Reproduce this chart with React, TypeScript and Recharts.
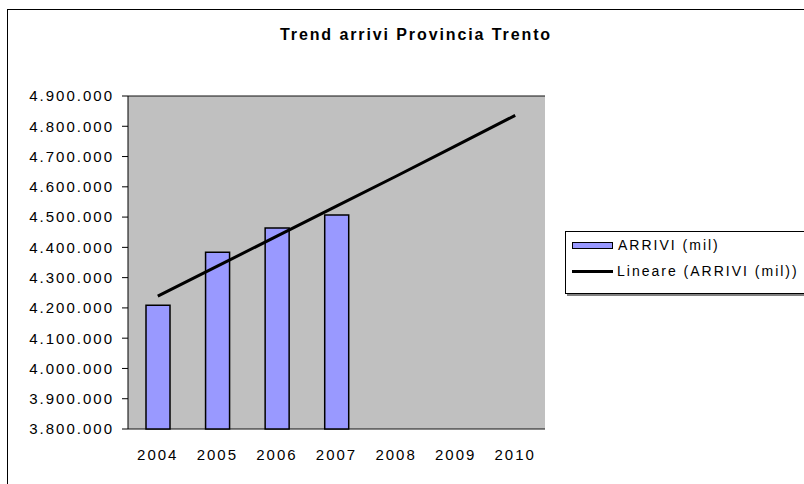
import React from 'react';
import {
  ComposedChart,
  Bar,
  Line,
  XAxis,
  YAxis,
  CartesianGrid,
  Legend
} from 'recharts';

const years = ['2004', '2005', '2006', '2007', '2008', '2009', '2010'];
const arrivi = [4209000, 4384000, 4464000, 4507000, null, null, null];
const lineare = [4239000, 4338000, 4437000, 4536000, 4635000, 4735000, 4836000];
const yTicks = [3800000, 3900000, 4000000, 4100000, 4200000, 4300000, 4400000, 4500000, 4600000, 4700000, 4800000, 4900000];
const bandTicks = [0, 1, 2, 3, 4, 5, 6, 7];

const data = years.map((year, i) => ({
  year,
  arrivi: arrivi[i],
  lineare: lineare[i]
}));

const font = '"Liberation Sans", Arial, sans-serif';

const fmt = (v: number) => v.toLocaleString('de-DE');

const LegendBox = () => (
  <div
    style={{
      width: 260,
      height: 61,
      border: '1px solid #000',
      boxShadow: '2px 2px 0 #808080',
      background: '#fff',
      fontFamily: font,
      fontSize: 14,
      letterSpacing: 2,
      color: '#000',
      position: 'relative'
    }}
  >
    <div style={{ position: 'absolute', left: 6, top: 10, width: 39, height: 5, background: '#9999ff', border: '1px solid #000' }} />
    <div style={{ position: 'absolute', left: 52, top: 5, lineHeight: '16px', whiteSpace: 'nowrap' }}>ARRIVI (mil)</div>
    <div style={{ position: 'absolute', left: 6, top: 38, width: 41, height: 3, background: '#000' }} />
    <div style={{ position: 'absolute', left: 51, top: 31, lineHeight: '16px', whiteSpace: 'nowrap' }}>Lineare (ARRIVI (mil))</div>
  </div>
);

export default function App() {
  return (
    <div style={{ position: 'absolute', left: 0, top: 0, width: 804, height: 484, overflow: 'hidden', background: '#fff' }}>
      <div style={{ position: 'absolute', left: 7, top: 9, width: 900, height: 600, border: '1px solid #000' }} />
      <div
        style={{
          position: 'absolute',
          left: 0,
          top: 27,
          width: 832,
          textAlign: 'center',
          fontFamily: font,
          fontWeight: 'bold',
          fontSize: 16,
          lineHeight: '16px',
          letterSpacing: 1.9,
          color: '#000'
        }}
      >
        Trend arrivi Provincia Trento
      </div>
      <div style={{ position: 'absolute', left: 0, top: 0 }}>
        <ComposedChart
          width={804}
          height={484}
          data={data}
          margin={{ top: 96, right: 259, bottom: 0, left: 0 }}
        >
          <CartesianGrid
            vertical={false}
            fill="#c0c0c0"
            fillOpacity={1}
            stroke="#111"
            strokeWidth={1}
          />
          <XAxis
            xAxisId="band"
            type="number"
            domain={[0, 7]}
            ticks={bandTicks}
            height={0}
            tick={false}
            tickSize={5}
            tickLine={{ stroke: '#000' }}
            axisLine={{ stroke: '#000' }}
          />
          <XAxis
            dataKey="year"
            xAxisId="cat"
            height={55}
            tickLine={false}
            axisLine={false}
            tickSize={0}
            tickMargin={20}
            tick={{ fill: '#000', fontSize: 15, fontFamily: font, letterSpacing: 2 }}
          />
          <XAxis
            xAxisId="top"
            orientation="top"
            type="number"
            domain={[0, 7]}
            height={0}
            tick={false}
            tickLine={false}
            axisLine={{ stroke: '#808080', strokeWidth: 2 }}
          />
          <YAxis
            yAxisId="left"
            width={128}
            domain={[3800000, 4900000]}
            ticks={yTicks}
            interval={0}
            tickFormatter={fmt}
            tickSize={6}
            tickMargin={8}
            tickLine={{ stroke: '#000' }}
            axisLine={{ stroke: '#000' }}
            tick={{ fill: '#000', fontSize: 15, fontFamily: font, letterSpacing: 2 }}
          />
          <YAxis
            yAxisId="right"
            orientation="right"
            width={0}
            domain={[3800000, 4900000]}
            tick={false}
            tickLine={false}
            axisLine={{ stroke: '#808080', strokeWidth: 2 }}
          />
          <Legend
            layout="horizontal"
            verticalAlign="middle"
            align="center"
            content={() => <LegendBox />}
            wrapperStyle={{ left: 565, top: 231, width: 262, height: 63 }}
          />
          <Bar
            xAxisId="cat"
            yAxisId="left"
            dataKey="arrivi"
            name="ARRIVI (mil)"
            barSize={24}
            fill="#9999ff"
            stroke="#000"
            strokeWidth={1.5}
            isAnimationActive={false}
          />
          <Line
            xAxisId="cat"
            yAxisId="left"
            type="linear"
            dataKey="lineare"
            name="Lineare (ARRIVI (mil))"
            stroke="#000"
            strokeWidth={3}
            dot={false}
            activeDot={false}
            isAnimationActive={false}
          />
        </ComposedChart>
      </div>
    </div>
  );
}
